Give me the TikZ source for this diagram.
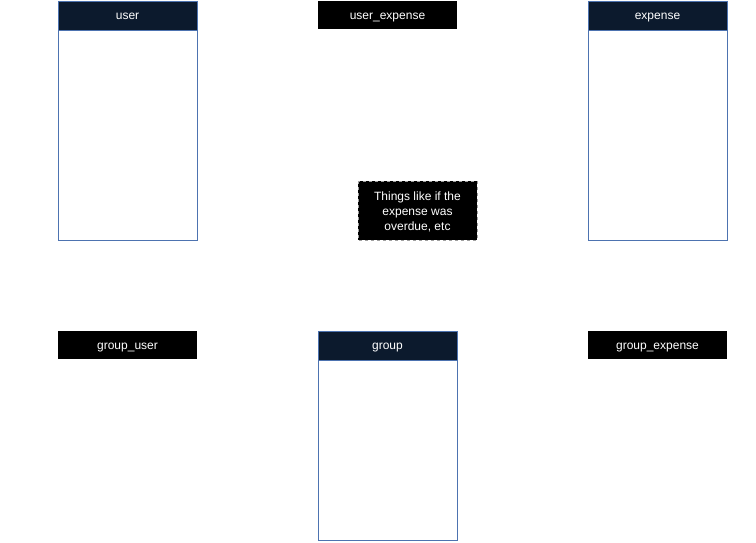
\documentclass[tikz,border=0pt]{standalone}
\usepackage{fontspec}
\setmainfont{Liberation Sans}
\definecolor{hdr}{HTML}{0C1A2D}
\definecolor{bord}{HTML}{4D73B0}
\definecolor{ndash}{HTML}{A0A0A0}
\tikzset{
  tbody/.style={draw=bord, line width=1pt, fill=white},
  thead/.style={draw=bord, line width=1pt, fill=hdr},
  blackbox/.style={fill=black, draw=none},
  lbl/.style={text=white, font=\fontsize{12}{14}\selectfont, inner sep=0pt, anchor=base},
  notebox/.style={fill=black, draw=ndash, dashed, line width=0.8pt},
}
\begin{document}
\begin{tikzpicture}[x=1pt,y=-1pt]
\useasboundingbox (0,0) rectangle (756,542);
% user table
\draw[tbody] (58,1) rectangle (197,240);
\draw[thead] (58,1) rectangle (197,30);
\node[lbl] (user) at (127.5,19.5) {user};
% user_expense
\fill[blackbox] (318,1) rectangle (457,29);
\node[lbl] (userexpense) at (387.5,19) {user\_expense};
% expense table
\draw[tbody] (588,1) rectangle (727,240);
\draw[thead] (588,1) rectangle (727,30);
\node[lbl] (expense) at (657.5,19.5) {expense};
% note
\draw[notebox] (358,181) rectangle (477,240);
\node[lbl, anchor=center, align=center, font=\fontsize{12}{15}\selectfont] (note) at (417.5,212) {Things like if the\\expense was\\overdue, etc};
% group_user
\fill[blackbox] (58,331) rectangle (197,359);
\node[lbl] (groupuser) at (127.5,349) {group\_user};
% group table
\draw[tbody] (318,331) rectangle (457,540);
\draw[thead] (318,331) rectangle (457,360);
\node[lbl] (group) at (387.5,349.5) {group};
% group_expense
\fill[blackbox] (588,331) rectangle (727,359);
\node[lbl] (groupexpense) at (657.5,349) {group\_expense};
\end{tikzpicture}
\end{document}
